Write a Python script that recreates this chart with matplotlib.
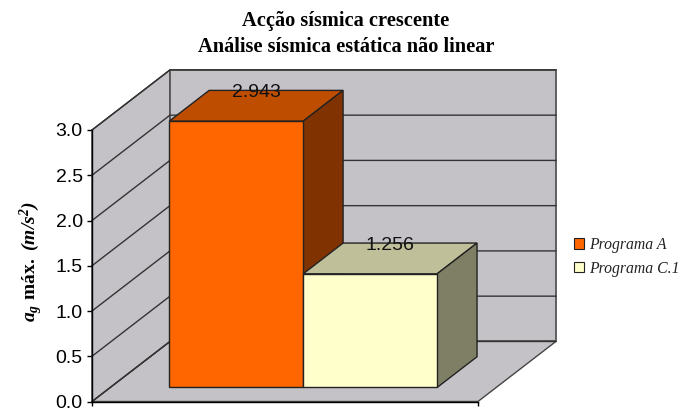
#!/usr/bin/env python3

import matplotlib
matplotlib.use('Agg')
import matplotlib.pyplot as plt
import matplotlib.patches as mpatches

plt.rc('font', family='Liberation Sans', size=12)
plt.rc('mathtext', fontset='custom', bf='Liberation Serif:bold',
       it='Liberation Serif:italic', bfit='Liberation Serif:italic:bold',
       rm='Liberation Serif')

title_lines = ["Acção sísmica crescente", "Análise sísmica estática não linear"]
series_names = ["Programa A", "Programa C.1"]
series_values = [2.943, 1.256]
value_labels = ["2.943", "1.256"]
yticks = [0.0, 0.5, 1.0, 1.5, 2.0, 2.5, 3.0]
ytick_labels = ["0.0", "0.5", "1.0", "1.5", "2.0", "2.5", "3.0"]
ylabel = r"$\mathbfit{a_g}$ $\mathbf{máx.}$ $\mathbfit{(m/s^2)}$"

front_colors = ['#FF6600', '#FFFFCC']
top_colors = ['#BF4D00', '#BFBF99']
side_colors = ['#803300', '#7F7F66']
wall_color = '#C4C2C6'

# oblique shift of the full chart depth, in data units
depth_dx = 0.202
depth_dy = 0.664
gap = 0.153
bar_w = 0.347
bar_d0 = 0.233
bar_d1 = 0.745


def proj(x, v, d):
    return (x + d * depth_dx, v + d * depth_dy)


def poly(ax, pts, fc, ec='#222222', lw=1.0, z=1):
    ax.add_patch(mpatches.Polygon(pts, closed=True, facecolor=fc, edgecolor=ec,
                                  linewidth=lw, zorder=z, clip_on=False,
                                  joinstyle='miter'))


if __name__ == '__main__':
    fig = plt.figure(figsize=(6.8, 4.12), dpi=100)
    ax = fig.add_axes([92 / 680, 1 - 401.5 / 412, 386 / 680, 271.5 / 412])
    ax.set_xlim(0, 1)
    ax.set_ylim(0, 3)

    # floor and walls
    poly(ax, [proj(0, 0, 0), proj(1, 0, 0), proj(1, 0, 1), proj(0, 0, 1)], wall_color, ec='#444444')
    poly(ax, [proj(0, 0, 0), proj(0, 3, 0), proj(0, 3, 1), proj(0, 0, 1)], wall_color, ec='#333333')
    poly(ax, [proj(0, 0, 1), proj(1, 0, 1), proj(1, 3, 1), proj(0, 3, 1)], wall_color, ec='#555555', lw=1.3)

    # gridlines run along the side wall and the back wall
    for v in yticks:
        xs, ys = zip(proj(0, v, 0), proj(0, v, 1), proj(1, v, 1))
        ax.plot(xs, ys, color='#333333', linewidth=1.0, zorder=2, clip_on=False)

    for i, val in enumerate(series_values):
        x0 = gap + i * bar_w
        x1 = x0 + bar_w
        poly(ax, [proj(x0, val, bar_d0), proj(x1, val, bar_d0), proj(x1, val, bar_d1), proj(x0, val, bar_d1)],
             top_colors[i], z=3 + i)
        poly(ax, [proj(x1, 0, bar_d0), proj(x1, 0, bar_d1), proj(x1, val, bar_d1), proj(x1, val, bar_d0)],
             side_colors[i], z=3 + i)
        poly(ax, [proj(x0, 0, bar_d0), proj(x1, 0, bar_d0), proj(x1, val, bar_d0), proj(x0, val, bar_d0)],
             front_colors[i], z=3 + i)
        ax.annotate(value_labels[i], xy=proj((x0 + x1) / 2, val, (bar_d0 + bar_d1) / 2),
                    xytext=(0, 9.3), textcoords='offset points', ha='center', va='center',
                    fontsize=14, color='#111111', zorder=10, annotation_clip=False)

    for s in ['top', 'right']:
        ax.spines[s].set_visible(False)
    for s in ['left', 'bottom']:
        ax.spines[s].set_linewidth(1.0)
        ax.spines[s].set_color('black')
        ax.spines[s].set_zorder(6)
    ax.set_yticks(yticks)
    ax.set_yticklabels(ytick_labels)
    ax.set_xticks([0, 1])
    ax.set_xticklabels([])
    ax.tick_params(axis='y', length=3.6, width=1, pad=3, labelsize=14, color='black')
    ax.tick_params(axis='x', length=3, width=1, color='black')

    fig.text(31 / 680, 1 - 262 / 412, ylabel, rotation=90, ha='center', va='center', fontsize=14)

    fig.text(346 / 680, 1 - 21 / 412, title_lines[0], family='Liberation Serif', weight='bold',
             fontsize=14.7, ha='center', va='center')
    fig.text(346 / 680, 1 - 47 / 412, title_lines[1], family='Liberation Serif', weight='bold',
             fontsize=14.7, ha='center', va='center')

    handles = [mpatches.Patch(facecolor=front_colors[i], edgecolor='#222222', linewidth=0.8,
                              label=series_names[i]) for i in range(2)]
    ax.legend(handles=handles, loc='upper left', bbox_to_anchor=(574 / 680, 1 - 237 / 412),
              bbox_transform=fig.transFigure, frameon=False, borderpad=0, borderaxespad=0,
              handlelength=0.64, handleheight=0.64, handletextpad=0.33, labelspacing=0.49,
              labelcolor='#222222',
              prop={'family': 'Liberation Serif', 'style': 'italic', 'size': 11.3})

    plt.savefig("out.png", dpi=100)
